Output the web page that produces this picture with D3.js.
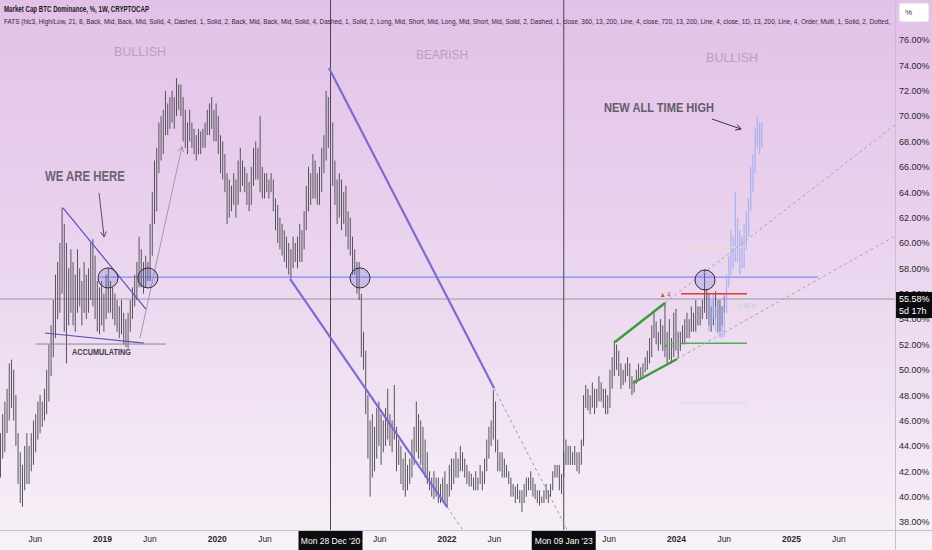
<!DOCTYPE html>
<html>
<head>
<meta charset="utf-8">
<script src="https://cdn.jsdelivr.net/npm/d3@7/dist/d3.min.js"></script>
<style>
body{margin:0;background:#f8f4f9;}
svg{display:block;font-family:"Liberation Sans Narrow","Liberation Sans",Arial,sans-serif;}
</style>
</head>
<body>
<script>
//weekly bars of Market Cap BTC Dominance (%), first bar on this Monday
var startWeek = "2018-02-12";

//weekly highs
var barHigh = [
    45.0,46.5,47.5,48.5,50.5,50.8,50.0,48.0,45.0,43.5,42.5,44.0,45.0,
    44.0,45.0,46.0,46.5,47.5,48.0,47.5,48.5,50.0,
    52.0,53.5,55.5,57.5,58.5,
    60.0,62.8,61.5,60.0,58.0,59.5,58.5,57.5,59.5,58.0,57.0,58.5,57.5,58.0,60.0,60.3,59.0,57.0,56.5,57.0,
    56.0,57.5,58.0,57.0,56.5,56.0,55.5,55.0,55.5,54.5,54.0,54.5,55.5,56.5,57.5,58.5,60.5,59.5,58.5,59.0,58.5,
    61.5,64.0,66.5,67.5,69.5,70.0,70.5,72.0,71.0,71.5,72.0,71.5,73.0,72.5,72.5,71.5,70.5,69.5,70.5,69.5,
    69.0,68.5,69.0,68.8,69.0,69.5,70.5,71.0,71.5,70.5,71.0,70.0,
    68.5,68.0,67.0,65.5,65.0,64.5,65.5,65.0,66.5,67.5,66.5,66.0,65.5,64.8,66.0,67.5,68.0,67.5,70.0,66.0,
    65.5,65.5,65.0,65.5,65.0,63.5,63.0,62.0,61.5,61.0,60.5,60.0,59.5,60.5,60.0,60.5,61.5,61.0,62.5,64.5,
    66.0,65.5,67.0,66.5,65.5,66.0,67.5,68.5,72.0,71.5,
    70.5,69.5,66.5,65.0,65.5,65.0,64.0,64.5,62.5,62.0,60.5,59.5,58.5,58.5,56.0,53.0,51.5,48.0,46.0,46.5,
    45.5,47.0,47.5,46.5,46.0,47.0,48.5,46.5,46.0,48.8,45.5,44.5,44.0,43.0,43.5,42.5,43.0,44.5,45.5,47.5,
    46.5,46.0,45.5,44.5,43.5,42.0,41.5,42.0,41.5,41.5,
    41.0,41.5,42.0,41.0,42.5,43.0,43.0,43.5,43.0,44.0,43.5,43.0,42.5,42.0,41.8,41.5,42.0,41.5,42.5,42.0,
    43.0,44.5,45.5,46.0,48.4,47.5,44.5,43.5,43.5,43.0,42.5,42.0,41.5,41.0,40.8,41.0,40.5,40.5,41.0,41.5,
    41.5,42.0,41.5,41.0,40.5,40.5,40.0,40.5,41.0,40.5,
    41.0,42.0,42.5,42.5,42.5,41.8,43.5,44.5,44.0,44.0,43.5,44.0,43.5,43.5,44.5,48.0,48.8,48.5,48.0,49.0,
    48.5,48.5,49.5,49.0,48.5,48.5,48.0,50.0,51.0,52.3,52.0,51.5,50.5,50.0,50.5,51.0,50.5,49.5,49.2,50.0,
    50.5,50.2,50.5,51.0,51.5,52.5,53.5,54.5,53.8,53.0,
    54.0,53.5,55.3,53.0,54.0,52.5,54.5,54.8,53.0,53.0,53.5,54.0,54.5,54.0,55.0,54.5,55.5,55.0,55.0,55.5,
    57.9,56.3,56.0,55.0,55.5,56.2,55.5,55.5,55.0,55.8
];

//weekly lows
var barLow = [
    41.5,43.0,43.5,45.0,46.0,47.0,46.0,44.0,41.0,39.5,39.2,40.5,41.0,
    41.0,42.0,42.5,43.5,44.5,45.0,45.5,46.0,46.5,
    47.5,49.5,51.0,52.5,54.0,
    54.5,56.0,53.0,50.5,53.5,54.5,53.5,53.0,54.5,55.0,53.5,54.5,54.0,54.5,55.5,55.0,54.0,53.0,52.8,53.5,
    53.0,54.0,54.5,54.5,54.0,53.5,53.0,52.5,52.8,52.0,51.8,51.7,53.0,54.0,55.0,55.5,56.5,56.5,56.0,56.5,57.0,
    57.0,59.0,61.5,62.5,65.5,66.5,67.0,68.5,68.5,69.0,69.5,69.0,70.0,70.5,70.0,68.0,67.5,67.0,68.0,67.5,
    67.0,66.5,67.0,67.0,67.5,67.5,68.5,68.5,69.0,68.0,68.0,67.0,
    65.5,65.0,64.0,61.5,62.0,62.5,63.0,62.0,63.0,64.0,64.5,64.0,63.0,62.5,63.0,64.5,65.0,65.0,64.0,63.5,
    63.5,64.0,63.5,64.0,62.5,61.0,60.0,59.5,59.0,58.5,58.0,57.5,57.2,58.0,58.5,58.0,58.5,58.5,59.5,61.0,
    62.5,63.0,63.5,63.5,63.0,63.0,64.0,65.5,66.5,67.5,
    64.5,64.5,63.0,61.5,62.0,61.0,61.5,60.5,59.5,59.0,57.5,57.5,56.0,55.5,51.0,50.0,46.5,43.0,40.0,41.5,
    42.0,43.0,44.0,42.5,43.5,44.0,44.5,44.0,43.5,44.5,42.0,42.5,41.0,40.5,40.0,40.5,41.0,41.5,42.5,43.5,
    43.0,42.5,42.0,41.5,41.0,40.5,40.0,39.8,40.0,39.5,
    39.5,39.8,39.5,39.2,40.0,40.5,41.0,41.5,41.5,42.0,42.0,41.5,41.0,40.8,40.8,40.5,40.5,40.5,41.0,40.5,
    41.0,42.0,43.0,44.0,44.5,43.5,42.0,42.0,41.5,41.5,41.5,41.0,40.0,40.0,39.5,39.8,39.5,38.8,39.5,40.0,
    40.5,40.5,40.0,39.8,39.5,39.3,39.5,39.5,39.8,39.5,
    40.0,40.5,41.5,41.5,40.5,40.2,41.5,42.5,42.5,42.5,42.5,42.5,42.0,41.8,42.5,44.0,47.0,46.8,46.5,47.0,
    46.5,47.0,47.5,47.5,47.0,46.5,46.5,47.0,48.5,49.5,50.0,49.5,48.5,48.8,49.0,49.5,48.5,48.0,48.2,48.9,
    49.2,49.3,49.5,49.8,50.0,50.5,51.0,52.5,52.0,51.5,
    52.0,51.5,51.0,50.5,50.8,50.5,51.0,51.5,50.9,51.5,52.0,52.0,52.5,52.5,53.0,53.0,53.0,53.5,53.5,54.0,
    54.5,54.0,53.5,53.0,53.5,54.0,53.0,53.0,53.5,54.5
];

//projected path (light blue bars), first one on week 322
var projStart = 322;
var projHigh = [56.0,55.5,56.0,55.0,55.5,54.5,55.0,56.0,57.5,59.0,61.0,60.5,64.0,62.0,61.0,60.5,61.5,62.5,63.5,66.0,67.0,69.0,70.0,69.5,69.5];
var projLow  = [53.0,53.5,54.0,53.0,52.8,52.5,52.5,52.6,54.5,56.5,57.5,58.0,58.5,58.5,57.5,58.0,58.0,59.5,60.5,62.5,64.0,65.5,67.5,67.0,67.5];

//axis ticks
var yTicks = [38,40,42,44,46,48,50,52,54,56,58,60,62,64,66,68,70,72,74,76];
var xTickDates = ["2018-06-01","2019-01-01","2019-06-01","2020-01-01","2020-06-01","2021-06-01","2022-01-01","2022-06-01","2023-06-01","2024-01-01","2024-06-01","2025-01-01","2025-06-01"];
var xTickLabels = ["Jun","2019","Jun","2020","Jun","Jun","2022","Jun","Jun","2024","Jun","2025","Jun"];
var markedDates = ["2020-12-28","2023-01-09"];
var markedLabels = ["Mon 28 Dec '20","Mon 09 Jan '23"];
var lastValue = 55.58;
var lastLabel = ["55.58%","5d 17h"];
var breakoutLevel = 57.3;

window.onload = setChart();

function setChart(){

    //frame
    var width = 932,
        height = 550,
        plotW = 895,
        plotH = 530;

    var svg = d3.select("body")
        .append("svg")
        .attr("width", width)
        .attr("height", height);

    var defs = svg.append("defs");
    var grad = defs.append("linearGradient")
        .attr("id", "bg")
        .attr("x1", 0).attr("y1", 0).attr("x2", 0).attr("y2", 1);
    grad.append("stop").attr("offset", "0%").attr("stop-color", "#e2c1e8");
    grad.append("stop").attr("offset", "50%").attr("stop-color", "#ebd6ef");
    grad.append("stop").attr("offset", "95%").attr("stop-color", "#f6eef7");
    grad.append("stop").attr("offset", "100%").attr("stop-color", "#f8f3f9");
    defs.append("clipPath").attr("id", "plotclip")
        .append("rect").attr("width", plotW).attr("height", plotH);

    svg.append("rect")
        .attr("width", width)
        .attr("height", height)
        .attr("fill", "url(#bg)");

    //scales
    var x = d3.scaleUtc()
        .domain([new Date("2019-01-01"), new Date("2025-01-01")])
        .range([102, 791]);
    var y = d3.scaleLinear()
        .domain([38, 76])
        .range([522, 40]);

    function weekDate(i){
        return new Date(Date.parse(startWeek) + i * 7 * 864e5);
    }
    //[week index, value] -> pixels
    function px(p){ return [x(weekDate(p[0])), y(p[1])]; }

    var plot = svg.append("g").attr("clip-path", "url(#plotclip)");

    //last price line
    plot.append("line")
        .attr("x1", 0).attr("x2", plotW)
        .attr("y1", y(lastValue)).attr("y2", y(lastValue))
        .attr("stroke", "#9c95a0").attr("stroke-width", 1);

    //breakout level
    plot.append("line")
        .attr("x1", px([45, 0])[0]).attr("x2", px([371.6, 0])[0])
        .attr("y1", y(breakoutLevel)).attr("y2", y(breakoutLevel))
        .attr("stroke", "#7f8ff0").attr("stroke-width", 1.2);

    //marked dates
    plot.selectAll(".vmark")
        .data(markedDates)
        .enter()
        .append("line")
        .attr("class", "vmark")
        .attr("x1", d => x(new Date(d))).attr("x2", d => x(new Date(d)))
        .attr("y1", 0).attr("y2", plotH)
        .attr("stroke", "#4a464e").attr("stroke-width", 1);

    //weekly bars
    plot.append("g").selectAll("line")
        .data(barHigh)
        .enter()
        .append("line")
        .attr("x1", (d, i) => x(weekDate(i)))
        .attr("x2", (d, i) => x(weekDate(i)))
        .attr("y1", d => y(d))
        .attr("y2", (d, i) => y(barLow[i]))
        .attr("stroke", "#57535c")
        .attr("stroke-width", 1);

    //projected bars
    plot.append("g").selectAll("line")
        .data(projHigh)
        .enter()
        .append("line")
        .attr("x1", (d, i) => x(weekDate(projStart + i)))
        .attr("x2", (d, i) => x(weekDate(projStart + i)))
        .attr("y1", d => y(d))
        .attr("y2", (d, i) => y(projLow[i]))
        .attr("stroke", "#95a6ef")
        .attr("stroke-opacity", 0.7)
        .attr("stroke-width", 1.3);

    //drawn lines: [from, to, colour, width, dash]
    var drawings = [
        [[28.4, 62.76], [66.1, 54.79], "#5e52b8", 1.2, null],   //triangle top
        [[20.2, 52.9], [65.2, 52.1], "#5e52b8", 1.2, null],     //triangle bottom
        [[16.1, 52.03], [75.2, 52.03], "#8c8690", 1, null],     //accumulation floor
        [[63.4, 52.5], [82.5, 67.6], "#a498ad", 1, null],       //move arrow
        [[149.3, 73.79], [224.3, 48.56], "#7f6bd0", 2.2, null], //bearish top
        [[131.6, 57.16], [203, 39.18], "#7f6bd0", 2.2, null],   //bearish bottom
        [[224.3, 48.56], [257.6, 37.37], "#a09aa6", 1, "3,3"],
        [[203, 39.18], [210.1, 37.37], "#a09aa6", 1, "3,3"],
        [[279.3, 52.19], [302, 55.27], "#3f9a3a", 2.5, null],   //flag top
        [[287.5, 48.96], [307.5, 50.85], "#3f9a3a", 2.5, null], //flag bottom
        [[309.3, 52.1], [339.3, 52.1], "#4caf50", 1.5, null],
        [[309.3, 56.0], [339.3, 56.0], "#e53935", 1.5, null],
        [[309.3, 47.38], [339.3, 47.38], "#d4ccd6", 1, "2,2"],
        [[309.3, 59.68], [339.3, 59.68], "#eadcc8", 1, null],
        [[302, 55.27], [406.6, 69.3], "#a8a2ae", 1, "3,3"],     //channel top
        [[307.5, 50.85], [406.6, 60.55], "#a8a2ae", 1, "3,3"],  //channel bottom
        [[44.8, 63.94], [47.1, 60.47], "#555058", 1, null],     //we are here arrow
        [[323.4, 69.77], [336.6, 68.98], "#3a363e", 1, null]    //ath arrow
    ];
    plot.append("g").selectAll("line")
        .data(drawings)
        .enter()
        .append("line")
        .attr("x1", d => px(d[0])[0]).attr("y1", d => px(d[0])[1])
        .attr("x2", d => px(d[1])[0]).attr("y2", d => px(d[1])[1])
        .attr("stroke", d => d[2])
        .attr("stroke-width", d => d[3])
        .attr("stroke-dasharray", d => d[4]);

    //arrow heads at the end of the three arrows
    [[drawings[3], "#a498ad"], [drawings[16], "#555058"], [drawings[17], "#3a363e"]].forEach(function(a){
        var p0 = px(a[0][0]), p1 = px(a[0][1]);
        var ang = Math.atan2(p1[1] - p0[1], p1[0] - p0[0]);
        var len = 6;
        var h = d3.path();
        h.moveTo(p1[0] - len * Math.cos(ang - 0.5), p1[1] - len * Math.sin(ang - 0.5));
        h.lineTo(p1[0], p1[1]);
        h.lineTo(p1[0] - len * Math.cos(ang + 0.5), p1[1] - len * Math.sin(ang + 0.5));
        plot.append("path").attr("d", h.toString())
            .attr("fill", "none").attr("stroke", a[1]).attr("stroke-width", 1);
    });

    //circles on the breakout level
    var circles = [[48.9, 57.24], [67.0, 57.24], [163.4, 57.24], [320.2, 57.08]];
    plot.selectAll(".ring")
        .data(circles)
        .enter()
        .append("circle")
        .attr("class", "ring")
        .attr("cx", d => px(d)[0]).attr("cy", d => px(d)[1])
        .attr("r", 10)
        .attr("fill", "rgba(110,110,215,0.25)")
        .attr("stroke", "#2f2b33").attr("stroke-width", 1);

    //texts: [text, anchor point, size, weight, colour, anchor, length]
    var notes = [
        ["BULLISH", [63.4, 74.74], 12, "normal", "#b3a2bc", "middle", 52],
        ["BEARISH", [200.7, 74.5], 12, "normal", "#b3a2bc", "middle", 52],
        ["BULLISH", [332.5, 74.3], 12, "normal", "#b3a2bc", "middle", 52],
        ["WE ARE HERE", [20.2, 64.9], 14, "bold", "#6b6572", "start", 80],
        ["ACCUMULATING", [32.5, 51.2], 8.5, "bold", "#3e3a44", "start", 59],
        ["NEW ALL TIME HIGH", [274.3, 70.3], 12, "bold", "#625c68", "start", 110],
        ["\u25B2 4", [299.6, 55.7], 7, "normal", "#e04040", "start", 11],
        ["\u25B2 5", [301.0, 51.8], 7, "normal", "#4caf50", "start", 11],
        ["\u25C1 18 H", [334.3, 54.9], 7, "normal", "#a4d6c6", "start", 20]
    ];
    plot.selectAll(".note")
        .data(notes)
        .enter()
        .append("text")
        .attr("class", "note")
        .attr("x", d => px(d[1])[0]).attr("y", d => px(d[1])[1])
        .attr("font-family", "'Liberation Sans',Arial,sans-serif")
        .attr("font-size", d => d[2])
        .attr("font-weight", d => d[3])
        .attr("fill", d => d[4])
        .attr("text-anchor", d => d[5])
        .attr("textLength", d => d[6])
        .attr("lengthAdjust", "spacingAndGlyphs")
        .text(d => d[0]);

    //header
    svg.append("text")
        .attr("x", 4).attr("y", 12)
        .attr("font-size", 8.5).attr("font-weight", "bold").attr("fill", "#1c1a1e")
        .attr("textLength", 145).attr("lengthAdjust", "spacingAndGlyphs")
        .text("Market Cap BTC Dominance, %, 1W, CRYPTOCAP");
    svg.append("text")
        .attr("x", 4).attr("y", 24)
        .attr("font-size", 7.5).attr("fill", "#2e2b31")
        .attr("textLength", 886).attr("lengthAdjust", "spacingAndGlyphs")
        .text("FATS (hlc3, High/Low, 21, 8, Back, Mid, Back, Mid, Solid, 4, Dashed, 1, Solid, 2, Back, Mid, Back, Mid, Solid, 4, Dashed, 1, Solid, 2, Long, Mid, Short, Mid, Long, Mid, Short, Mid, Solid, 2, Dashed, 1, close, 360, 13, 200, Line, 4, close, 720, 13, 200, Line, 4, close, 1D, 13, 200, Line, 4, Order, Multi, 1, Solid, 2, Dotted,");

    //axis frame
    svg.append("line")
        .attr("x1", plotW + 0.5).attr("x2", plotW + 0.5)
        .attr("y1", 0).attr("y2", height)
        .attr("stroke", "#c9bfcc");
    svg.append("line")
        .attr("x1", 0).attr("x2", width)
        .attr("y1", plotH + 0.5).attr("y2", plotH + 0.5)
        .attr("stroke", "#c9bfcc");

    //price axis
    var yAxis = d3.axisRight(y)
        .tickValues(yTicks)
        .tickFormat(d => d.toFixed(2) + "%")
        .tickSize(0)
        .tickPadding(4);
    var gy = svg.append("g")
        .attr("transform", "translate(" + plotW + ",0)")
        .call(yAxis);
    gy.select(".domain").remove();
    gy.selectAll("text")
        .attr("font-family", "'Liberation Sans Narrow','Liberation Sans',sans-serif")
        .attr("font-size", 9).attr("fill", "#2a282c");

    //time axis
    var xAxis = d3.axisBottom(x)
        .tickValues(xTickDates.map(d => new Date(d)))
        .tickFormat((d, i) => xTickLabels[i])
        .tickSize(0)
        .tickPadding(6);
    var gx = svg.append("g")
        .attr("transform", "translate(0," + plotH + ")")
        .call(xAxis);
    gx.select(".domain").remove();
    gx.selectAll("text")
        .attr("font-family", "'Liberation Sans Narrow','Liberation Sans',sans-serif")
        .attr("font-size", 8.5).attr("fill", "#2a282c")
        .attr("font-weight", (d, i) => xTickLabels[i] == "Jun" ? "normal" : "bold");

    //date boxes
    markedDates.forEach(function(d, i){
        var cx = x(new Date(d));
        svg.append("rect")
            .attr("x", cx - 32).attr("y", plotH + 1)
            .attr("width", 64).attr("height", 19)
            .attr("fill", "#0c0b0d");
        svg.append("text")
            .attr("x", cx).attr("y", plotH + 13.5)
            .attr("text-anchor", "middle")
            .attr("font-size", 8.5).attr("fill", "#fff")
            .text(markedLabels[i]);
    });

    //last value box
    var ly = y(lastValue);
    svg.append("rect")
        .attr("x", plotW + 1).attr("y", ly - 7)
        .attr("width", 36).attr("height", 26)
        .attr("fill", "#0b0a0c");
    lastLabel.forEach(function(t, i){
        svg.append("text")
            .attr("x", plotW + 4).attr("y", ly + 3 + i * 12)
            .attr("font-size", 9).attr("fill", "#fff")
            .text(t);
    });

    //unit button
    svg.append("rect")
        .attr("x", 899).attr("y", 3)
        .attr("width", 30).attr("height", 19).attr("rx", 2)
        .attr("fill", "#fff").attr("stroke", "#dcd6de");
    svg.append("text")
        .attr("x", 905).attr("y", 15)
        .attr("font-size", 8).attr("fill", "#333")
        .text("%");
}; //end of setChart()
</script>
</body>
</html>
